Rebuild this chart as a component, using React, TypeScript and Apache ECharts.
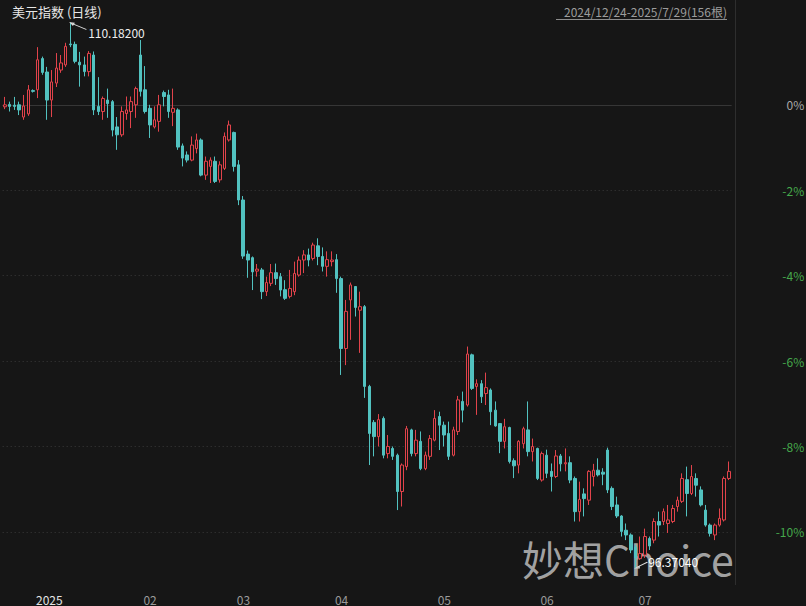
import React, { useEffect, useRef } from 'react';
import * as echarts from 'echarts';

const TITLE = '美元指数 (日线)';
const RANGE_TEXT = '2024/12/24-2025/7/29(156根)';
const WATERMARK = '妙想Choice';
const FONT = '"Noto Sans CJK SC", "Noto Sans", sans-serif';

// base price for the percentage axis (first close)
const BASE = 108.1;
const START_DATE = Date.UTC(2024, 11, 24);
const COUNT = 156;

const OPEN = [
  108.05, 108.11, 108.09, 108.10, 107.79, 107.87, 108.46, 108.48, 109.27, 108.93,
  108.22, 108.65, 108.98, 109.11, 109.64, 109.63, 109.18, 109.11, 108.94, 109.36,
  108.06, 107.93, 108.22, 108.18, 107.54, 107.34, 107.88, 107.93, 108.10, 109.36,
  108.48, 108.01, 107.54, 107.68, 108.41, 108.35, 107.91, 107.97, 107.06, 106.83,
  106.70, 106.99, 107.21, 106.32, 106.54, 106.67, 106.20, 106.49, 107.21, 107.40,
  106.58, 105.69, 104.32, 104.23, 103.89, 103.92, 103.37, 103.58, 103.85, 103.75,
  103.42, 103.25, 103.37, 103.79, 104.17, 104.30, 104.21, 104.53, 104.26, 104.01,
  104.13, 104.18, 103.70, 101.93, 103.16, 103.50, 102.90, 102.99, 100.97, 100.06,
  99.70, 100.16, 99.27, 99.40, 99.23, 98.31, 98.94, 99.87, 99.27, 99.58,
  98.89, 99.20, 99.61, 100.21, 99.99, 99.78, 99.23, 99.83, 100.59, 100.50,
  101.77, 100.97, 101.04, 100.79, 100.88, 100.37, 100.03, 99.58, 99.93, 99.09,
  98.98, 99.52, 99.87, 99.32, 99.40, 98.60, 99.23, 98.82, 98.69, 99.21,
  99.01, 99.04, 98.64, 97.80, 98.25, 98.09, 98.69, 98.85, 98.80, 99.36,
  98.39, 97.97, 97.69, 97.33, 97.21, 96.90, 96.61, 96.70, 97.12, 97.08,
  97.55, 97.55, 97.50, 97.55, 97.93, 98.06, 98.61, 98.26, 98.64, 98.35,
  97.84, 97.46, 97.21, 97.46, 97.59, 98.64,
];

const CLOSE = [
  108.10, 108.06, 108.06, 107.97, 108.07, 108.48, 108.44, 109.24, 108.92, 108.22,
  108.68, 109.03, 109.16, 109.58, 109.62, 109.20, 109.11, 108.94, 109.40, 107.97,
  107.93, 108.26, 108.13, 107.46, 107.34, 107.93, 107.97, 108.18, 108.51, 108.44,
  107.93, 107.59, 107.72, 108.10, 108.31, 107.93, 108.01, 107.03, 106.75, 106.70,
  107.08, 107.21, 106.32, 106.67, 106.70, 106.16, 106.58, 107.30, 107.59, 106.54,
  105.69, 104.27, 104.17, 103.87, 103.94, 103.37, 103.60, 103.85, 103.70, 103.41,
  103.20, 103.45, 103.83, 104.17, 104.30, 104.17, 104.55, 104.26, 104.01, 104.18,
  104.17, 103.70, 101.93, 102.87, 103.54, 102.97, 102.99, 100.97, 99.78, 99.70,
  100.13, 99.23, 99.45, 99.20, 98.31, 98.98, 99.90, 99.27, 99.61, 98.89,
  99.23, 99.65, 100.16, 99.99, 99.74, 99.20, 99.87, 100.63, 100.37, 101.79,
  100.92, 101.04, 100.71, 100.94, 100.33, 99.97, 99.58, 99.95, 99.07, 98.96,
  99.58, 99.90, 99.32, 99.45, 98.64, 99.27, 98.77, 98.69, 99.21, 99.01,
  99.04, 98.60, 97.80, 98.11, 98.13, 98.82, 98.85, 98.73, 98.75, 98.35,
  97.93, 97.69, 97.30, 97.21, 96.83, 96.63, 96.74, 97.17, 96.93, 97.55,
  97.46, 97.80, 97.59, 97.88, 98.09, 98.64, 98.26, 98.69, 98.47, 97.97,
  97.46, 97.25, 97.46, 97.63, 98.64, 98.82,
];

const HIGH = [
  108.30, 108.18, 108.30, 108.18, 108.35, 108.60, 108.49, 109.56, 109.32, 109.06,
  108.98, 109.41, 109.36, 109.67, 110.182, 109.70, 109.44, 109.32, 109.46, 109.45,
  108.80, 108.31, 108.51, 108.22, 107.79, 108.06, 108.31, 108.31, 108.56, 109.74,
  109.08, 108.10, 108.06, 108.35, 108.46, 108.48, 108.51, 108.01, 107.12, 106.92,
  107.30, 107.37, 107.25, 106.79, 106.77, 106.79, 106.67, 107.40, 107.70, 107.42,
  106.70, 105.79, 104.41, 104.26, 104.07, 103.97, 103.75, 104.07, 104.08, 103.84,
  103.66, 103.92, 104.13, 104.26, 104.42, 104.46, 104.61, 104.72, 104.49, 104.39,
  104.39, 104.32, 103.75, 103.16, 103.60, 103.51, 103.37, 103.03, 101.01, 100.12,
  100.27, 100.21, 99.74, 99.45, 99.27, 99.02, 99.97, 99.90, 99.87, 99.83,
  99.32, 99.74, 100.37, 100.33, 100.08, 100.08, 99.95, 100.73, 100.84, 101.98,
  101.80, 101.15, 101.13, 101.32, 100.92, 100.59, 100.04, 100.15, 99.95, 99.15,
  99.61, 99.95, 100.59, 99.65, 99.42, 99.32, 99.37, 99.02, 99.36, 99.26,
  99.40, 99.20, 98.69, 98.56, 98.39, 98.85, 99.01, 99.15, 98.90, 99.42,
  98.44, 98.18, 97.71, 97.50, 97.25, 96.96, 97.17, 97.37, 97.17, 97.63,
  97.80, 97.88, 97.97, 97.97, 98.18, 98.77, 98.94, 98.98, 98.77, 98.44,
  97.97, 97.50, 97.50, 97.88, 98.69, 99.07,
];

const LOW = [
  107.99, 107.93, 107.97, 107.84, 107.72, 107.82, 108.41, 108.27, 108.86, 107.72,
  107.79, 108.55, 108.91, 109.06, 109.56, 109.15, 108.56, 108.82, 108.82, 107.84,
  107.84, 107.72, 107.77, 107.30, 106.96, 107.29, 107.72, 107.51, 107.77, 108.31,
  107.88, 107.26, 107.50, 107.42, 108.06, 107.77, 107.56, 106.96, 106.54, 106.64,
  106.67, 106.87, 106.29, 106.20, 106.12, 106.12, 106.13, 106.45, 107.17, 106.41,
  105.56, 104.20, 103.72, 103.41, 103.75, 103.18, 103.26, 103.51, 103.54, 103.25,
  103.16, 103.20, 103.28, 103.75, 103.84, 104.01, 104.16, 104.04, 103.88, 103.75,
  104.01, 103.34, 101.26, 101.51, 102.15, 102.74, 101.82, 100.68, 98.98, 99.20,
  99.45, 99.15, 99.15, 99.11, 97.84, 97.93, 98.85, 99.20, 99.20, 98.85,
  98.85, 99.11, 99.58, 99.36, 99.45, 99.11, 99.20, 99.74, 100.06, 100.46,
  100.88, 100.25, 100.55, 100.50, 99.99, 99.95, 99.28, 99.40, 99.02, 98.65,
  98.77, 99.40, 99.20, 99.07, 98.60, 98.56, 98.65, 98.31, 98.65, 98.82,
  98.82, 98.52, 97.55, 97.55, 97.68, 97.97, 98.44, 98.69, 98.47, 98.27,
  97.84, 97.64, 97.17, 97.08, 96.75, 96.3704, 96.58, 96.63, 96.83, 97.00,
  97.17, 97.46, 97.26, 97.51, 97.80, 98.02, 97.68, 98.22, 98.18, 97.93,
  97.42, 97.17, 97.08, 97.42, 97.55, 98.60,
];

// trading-day categories (weekdays from the start date)
const DATES: string[] = [];
for (let t = START_DATE; DATES.length < COUNT; t += 86400000) {
  const d = new Date(t);
  const wd = d.getUTCDay();
  if (wd === 0 || wd === 6) continue;
  const mm = String(d.getUTCMonth() + 1).padStart(2, '0');
  const dd = String(d.getUTCDate()).padStart(2, '0');
  DATES.push(`${d.getUTCFullYear()}-${mm}-${dd}`);
}
const MONTH_LABELS: Record<string, string> = {};
DATES.forEach((ds, i) => {
  if (i === 0) return;
  if (ds.slice(5, 7) !== DATES[i - 1].slice(5, 7)) {
    MONTH_LABELS[ds] = ds.slice(5, 7) === '01' ? `{y|${ds.slice(0, 4)}}` : `{m|${ds.slice(5, 7)}}`;
  }
});

const pct = (p: number) => +(((p / BASE) - 1) * 100).toFixed(4);

export default function App() {
  const ref = useRef<HTMLDivElement>(null);
  useEffect(() => {
    if (!ref.current) return;
    const chart = echarts.init(ref.current, undefined, { renderer: 'svg' });
    const data = OPEN.map((o, i) => [pct(o), pct(CLOSE[i]), pct(LOW[i]), pct(HIGH[i])]);
    let hiIdx = 0;
    let loIdx = 0;
    HIGH.forEach((h, i) => { if (h > HIGH[hiIdx]) hiIdx = i; });
    LOW.forEach((l, i) => { if (l < LOW[loIdx]) loIdx = i; });

    chart.setOption({
      animation: false,
      backgroundColor: '#161616',
      textStyle: { fontFamily: FONT },
      grid: {
        left: 2.67,
        width: 728.53,
        top: 19.4,
        height: 597.8,
        containLabel: false,
        outerBoundsMode: 'none',
      },
      xAxis: {
        type: 'category',
        data: DATES,
        boundaryGap: true,
        offset: -32.2,
        axisLine: { show: true, lineStyle: { color: '#363636', width: 1 } },
        axisTick: { show: false },
        splitLine: { show: false },
        axisLabel: {
          interval: (i: number, v: string) => MONTH_LABELS[v] !== undefined,
          formatter: (v: string) => MONTH_LABELS[v] || '',
          align: 'left',
          margin: 8,
          padding: [0, 0, 0, 3],
          lineHeight: 12,
          rich: {
            y: { color: '#e4e4e4', fontSize: 12, lineHeight: 12, fontFamily: FONT },
            m: { color: '#9a9a9a', fontSize: 12, lineHeight: 12, fontFamily: FONT },
          },
        },
      },
      yAxis: {
        type: 'value',
        position: 'right',
        min: -12,
        max: 2,
        interval: 2,
        axisLine: { show: false },
        axisTick: { show: false },
        splitLine: {
          show: true,
          showMinLine: false,
          showMaxLine: false,
          lineStyle: { color: '#3a3a3a', width: 1, type: [1, 3] },
        },
        axisLabel: {
          align: 'right',
          margin: 73,
          fontSize: 12,
          fontFamily: FONT,
          formatter: (v: number) => (v > 0 || v < -10 ? '' : `${Math.round(v)}%`),
          color: (v: any) => (Number(v) === 0 ? '#a8a8a8' : '#45a84b'),
        },
      },
      series: [
        {
          type: 'candlestick',
          data,
          barWidth: 3,
          z: 3,
          itemStyle: {
            color: 'rgba(22,22,22,1)',
            color0: '#52c2c0',
            borderColor: '#e2434b',
            borderColor0: '#52c2c0',
            borderWidth: 1,
          },
          markPoint: {
            silent: true,
            animation: false,
            z: 20,
            data: [
              {
                coord: [hiIdx, pct(HIGH[hiIdx])],
                symbol: 'path://M0 0L3.6 0.4L2.4 2.4ZM1.6 1L16 7',
                symbolSize: [16, 7],
                symbolOffset: [8, 3.5],
                itemStyle: { color: 'rgba(0,0,0,0)', borderColor: '#dcdcdc', borderWidth: 1 },
                label: {
                  show: true,
                  formatter: HIGH[hiIdx].toFixed(5),
                  position: 'right',
                  distance: 1,
                  offset: [0, 6],
                  color: '#eeeeee',
                  fontSize: 12,
                  fontFamily: FONT,
                },
              },
              {
                coord: [loIdx, pct(LOW[loIdx])],
                symbol: 'path://M0 6L3.6 4.1L3.6 6ZM1.5 5.2L12 0',
                symbolSize: [12, 6],
                symbolOffset: [6, -3],
                itemStyle: { color: 'rgba(0,0,0,0)', borderColor: '#dcdcdc', borderWidth: 1 },
                label: {
                  show: true,
                  formatter: LOW[loIdx].toFixed(5),
                  position: 'right',
                  distance: 0,
                  offset: [0, -4],
                  color: '#ffffff',
                  fontSize: 12,
                  fontFamily: FONT,
                },
              },
            ],
          },
        },
      ],
      graphic: [
        {
          type: 'text',
          x: 12,
          y: 11,
          z: 10,
          style: {
            text: TITLE,
            fill: '#e6e6e6',
            font: `13px ${FONT}`,
            align: 'left',
            textAlign: 'left',
            verticalAlign: 'middle',
            textVerticalAlign: 'middle',
          },
        },
        {
          type: 'text',
          x: 727,
          y: 11,
          z: 10,
          style: {
            text: RANGE_TEXT,
            fill: '#9c9c9c',
            font: `12px ${FONT}`,
            align: 'right',
            textAlign: 'right',
            verticalAlign: 'middle',
            textVerticalAlign: 'middle',
          },
        },
        {
          type: 'line',
          z: 10,
          shape: { x1: 556, y1: 19.5, x2: 727, y2: 19.5 },
          style: { stroke: '#8c8c8c', lineWidth: 1 },
        },
        {
          type: 'line',
          z: 1,
          shape: { x1: 735.5, y1: 0, x2: 735.5, y2: 585 },
          style: { stroke: '#2e2e2e', lineWidth: 1 },
        },
        {
          type: 'text',
          x: 522,
          y: 558,
          z: 0,
          style: {
            text: WATERMARK,
            fill: 'rgba(200,200,200,0.8)',
            font: `41px ${FONT}`,
            align: 'left',
            textAlign: 'left',
            verticalAlign: 'middle',
            textVerticalAlign: 'middle',
          },
        },
      ],
    });
    return () => chart.dispose();
  }, []);
  return (
    <div
      ref={ref}
      style={{ position: 'fixed', left: 0, top: 0, width: 806, height: 606 }}
    />
  );
}
